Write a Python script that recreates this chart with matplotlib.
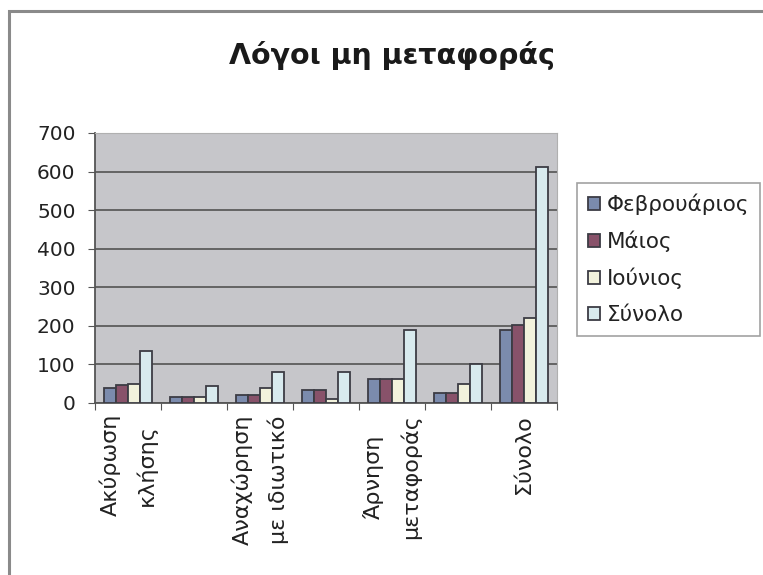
import numpy as np
import matplotlib
matplotlib.use("Agg")
from matplotlib import pyplot as plt
from matplotlib.patches import Rectangle

plt.rcParams['font.family'] = ['DejaVu Sans']

title = "Λόγοι μη μεταφοράς"
categories = ["Ακύρωση\nκλήσης", "", "Αναχώρηση\nμε ιδιωτικό", "",
              "Άρνηση\nμεταφοράς", "", "Σύνολο"]
series_names = ["Φεβρουάριος", "Μάιος", "Ιούνιος", "Σύνολο"]
feb = [40, 15, 20, 35, 63, 25, 190]
may = [47, 15, 20, 35, 63, 25, 202]
jun = [48, 15, 40, 10, 63, 50, 220]
total = [135, 45, 80, 80, 189, 100, 612]
colors = ["#7b8bad", "#88526a", "#f2f2dc", "#d8eaee"]

fig = plt.figure(figsize=(7.63, 5.75), dpi=100)
# chart frame, open to the right and bottom edges
fig.patches.append(Rectangle((9 / 763, -0.05), 1.1, 1 - 11 / 575 + 0.05,
                             transform=fig.transFigure, fill=False,
                             edgecolor="#8a8a8a", linewidth=2.2))

ax = fig.add_axes([95 / 763, 1 - 403 / 575, 462 / 763, 270 / 575])
ax.set_facecolor("#c6c6ca")

x = np.arange(len(categories))
w = 0.18
for i, (vals, name, c) in enumerate(zip([feb, may, jun, total], series_names, colors)):
    ax.bar(x + (i - 1.5) * w, vals, w, color=c, edgecolor="#3c3c44",
           linewidth=1.3, label=name, zorder=3)

ax.set_xlim(-0.5, len(categories) - 0.5)
ax.set_ylim(0, 700)
ax.set_yticks(range(0, 701, 100))
ax.grid(axis="y", color="#5c5c5c", linewidth=1.3, zorder=1)
ax.set_axisbelow(True)

# ticks between categories, labels centred under each group
ax.set_xticks(np.arange(len(categories) + 1) - 0.5)
ax.set_xticklabels([])
ax.set_xticks(x, minor=True)
ax.set_xticklabels(categories, minor=True, rotation=90, fontsize=16,
                   va="top", ha="center", linespacing=1.85, color="#222222")
ax.tick_params(axis="x", which="minor", length=0, pad=8)
ax.tick_params(axis="x", which="major", length=5, color="#555555")
ax.tick_params(axis="y", length=5, color="#555555", labelsize=14.5, pad=9,
               labelcolor="#222222")

for s in ["top", "right"]:
    ax.spines[s].set_color("#b0b0b0")
for s in ["left", "bottom"]:
    ax.spines[s].set_color("#555555")
    ax.spines[s].set_linewidth(1.3)

fig.text(392 / 763, 1 - 55 / 575, title, ha="center", va="center",
         fontsize=20.5, fontweight="bold", color="#1a1a1a")

leg = fig.legend(loc="upper left", bbox_to_anchor=(577 / 763, 1 - 183 / 575),
                 fontsize=15.5, frameon=True, fancybox=False, handlelength=0.55,
                 handleheight=0.55, handletextpad=0.35, labelspacing=0.72,
                 borderpad=0.5, borderaxespad=0, labelcolor="#222222")
leg.get_frame().set_edgecolor("#8a8a8a")
leg.get_frame().set_linewidth(1.2)

fig.savefig("out.png", dpi=100)
